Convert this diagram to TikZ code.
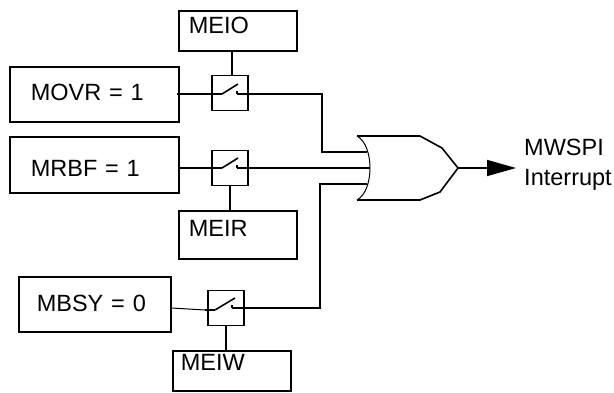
\documentclass[tikz,border=0pt]{standalone}
\usepackage{fontspec}
\setmainfont{Liberation Sans}
\usepackage{tikz}
\usetikzlibrary{calc}
\usetikzlibrary{arrows.meta}
\tikzset{mbox/.style={draw,line width=1.6pt,inner ysep=0pt,align=left,anchor=north west,font=\fontsize{23.5}{30}\selectfont}}
\tikzset{mswitch/.style={draw,line width=1.6pt,minimum width=36pt,minimum height=35pt,inner sep=0pt}}
\tikzset{mwire/.style={draw,line width=1.6pt}}

\begin{document}
\begin{tikzpicture}[x=1pt,y=-1pt]
\useasboundingbox (0,0) rectangle (614,392);
\node[mbox,inner xsep=10pt,text width=98pt,text height=23pt,text depth=17pt] (meio) at (178,10) {MEIO};
\node[mbox,inner xsep=21pt,text width=127pt,text height=34pt,text depth=21pt] (movr) at (9,66) {MOVR = 1};
\node[mbox,inner xsep=21pt,text width=127pt,text height=40pt,text depth=16pt] (mrbf) at (9,136) {MRBF = 1};
\node[mbox,inner xsep=10pt,text width=98pt,text height=26pt,text depth=22pt] (meir) at (178,210) {MEIR};
\node[mbox,inner xsep=18pt,text width=116pt,text height=35pt,text depth=20pt] (mbsy) at (18,276) {MBSY = 0};
\node[mbox,inner xsep=8pt,text width=102pt,text height=20pt,text depth=20pt] (meiw) at (172,350) {MEIW};

\node[mswitch] (swo) at (230,93) {};
\node[mswitch] (swr) at (230,168) {};
\node[mswitch] (swb) at (226,308) {};

% control lines
\draw[mwire] (meio.south -| 232,0) -- (swo.north -| 232,0);
\draw[mwire] (swr.south) -- (meir.north -| swr.south);
\draw[mwire] (swb.south) -- (meiw.north -| swb.south);

% switch contacts
\coordinate (loa) at ($(swo)+(-8,1)$);
\coordinate (roa) at ($(swo)+(7,1)$);
\coordinate (lra) at ($(swr)+(-8,0)$);
\coordinate (rra) at ($(swr)+(7,0)$);
\coordinate (lba) at ($(swb)+(-11,2)$);
\coordinate (rba) at ($(swb)+(6,0)$);
\draw[mwire] (loa) -- ++(16,-10);
\draw[mwire] (lra) -- ++(16,-10);
\draw[mwire] (lba) -- ++(20,-12);
\draw[mwire] (roa) -- ++(0,-3);
\draw[mwire] (rra) -- ++(0,-3);
\draw[mwire] (rba) -- ++(0,-3);

% gate
\coordinate (orout) at (458,168);
\coordinate (ina) at (367,152);
\coordinate (inb) at (370,168);
\coordinate (inc) at (367,184);
\draw[line width=1.6pt,line join=round] (357,136) -- (420,136) -- (442,148) -- (orout) -- (440,192) -- (420,200) -- (357,200);
\draw[line width=1pt] (357,136) .. controls (366,141) and (370,155) .. (inb) .. controls (370,181) and (366,195) .. (357,200);

% wires
\coordinate (bendo) at (322,152);
\coordinate (bendb) at (320,184);
\coordinate (stubo) at ($(movr.east |- loa)+(-3,0)$);
\draw[mwire] (stubo) -- (loa);
\draw[mwire] (mrbf.east |- lra) -- (lra);
\draw[line width=1pt] (mbsy.east |- 0,308) -- (lba -| 205,0);
\draw[mwire] (lba -| 205,0) -- (lba);
\draw[mwire] (roa) -| (bendo) -- (ina);
\draw[mwire] (rra) -- (inb);
\draw[mwire] (rba) -| (bendb) -- (inc);

% output
\coordinate (tip) at (516,168);
\draw[mwire,-{Triangle[length=29pt,width=16pt]}] (orout) -- (tip);
\node[align=center,inner sep=0pt,font=\fontsize{23.5}{30}\selectfont] (mwspi) at (568,165) {MWSPI\rule{8pt}{0pt}\\Interrupt};
\end{tikzpicture}
\end{document}
